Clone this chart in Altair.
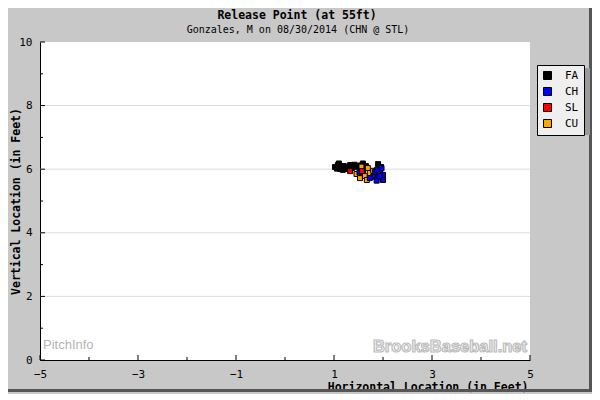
import altair as alt
import pandas as pd

# ---- data ----
TITLE = "Release Point (at 55ft)"
SUBTITLE = "Gonzales, M on 08/30/2014 (CHN @ STL)"
X_TITLE = "Horizontal Location (in Feet)"
Y_TITLE = "Vertical Location (in Feet)"
PITCH_TYPES = ["FA", "CH", "SL", "CU"]
PITCH_COLORS = ["#000000", "#0000ff", "#ff0000", "#ffa500"]

fa_x = [1.02, 1.08, 1.14, 1.20, 1.27, 1.33, 1.39, 1.45, 1.51, 1.12, 1.24, 1.37, 1.59, 1.65, 1.90, 1.96, 1.18, 1.31, 1.06, 1.55, 1.42, 1.10]
fa_y = [6.07, 6.13, 6.07, 6.10, 6.07, 6.13, 6.07, 6.10, 6.07, 6.01, 6.01, 6.04, 6.18, 6.10, 6.16, 6.07, 5.98, 6.00, 6.02, 6.12, 6.14, 6.18]
cu_x = [1.56, 1.59, 1.69, 1.46, 1.53, 1.63, 1.73, 1.80, 1.67]
cu_y = [6.08, 5.92, 6.04, 5.85, 5.72, 5.79, 5.88, 5.95, 5.66]
ch_x = [1.97, 1.84, 1.94, 2.00, 1.80, 1.90, 2.00, 1.73, 1.87, 1.88, 1.93, 1.52]
ch_y = [6.03, 5.92, 5.88, 5.82, 5.76, 5.74, 5.66, 5.72, 5.64, 5.98, 5.79, 5.90]
sl_x = [1.33, 1.57]
sl_y = [5.94, 5.94]

X_MAJOR = [-5, -3, -1, 1, 3, 5]
X_MINOR = [-4, -2, 0, 2, 4]
Y_MAJOR = [0, 2, 4, 6, 8, 10]
Y_MINOR = [1, 3, 5, 7, 9]
Y_GRID = [2, 4, 6, 8]

MONO = "DejaVu Sans Mono"

rows = []
for t, xs_, ys_ in [("FA", fa_x, fa_y), ("CU", cu_x, cu_y), ("CH", ch_x, ch_y), ("SL", sl_x, sl_y)]:
    for a, b in zip(xs_, ys_):
        rows.append({"type": t, "x": a, "y": b})
pts = pd.DataFrame(rows)
pts["order"] = range(len(pts))

W, H = 490, 318
xs = alt.Scale(domain=[-5, 5], nice=False, zero=False)
ys = alt.Scale(domain=[0, 10], nice=False, zero=False)
dummy = pd.DataFrame({"a": [0]})

def box(x, x2, y, y2, color):
    return alt.Chart(dummy).mark_rect(color=color).encode(
        x=alt.value(x), x2=alt.value(x2), y=alt.value(y), y2=alt.value(y2))

# frame border and legend shadow
frame = [
    box(549, 552, -34, 350, "#555555"),
    box(-32, 552, 347, 350, "#555555"),
    box(500, 550, 26, 93, "#9a9a9a"),  # legend shadow
]

grid = alt.Chart(pd.DataFrame({"v": Y_GRID})).mark_rule(color="#dcdcdc").encode(
    y=alt.Y("v:Q", scale=ys), x=alt.value(0), x2=alt.value(W))

def xticks(vals, ln):
    return alt.Chart(pd.DataFrame({"v": vals})).mark_rule(color="black").encode(
        x=alt.X("v:Q", scale=xs), y=alt.value(H), y2=alt.value(H - ln))

def yticks(vals, ln):
    return alt.Chart(pd.DataFrame({"v": vals})).mark_rule(color="black").encode(
        y=alt.Y("v:Q", scale=ys), x=alt.value(0), x2=alt.value(ln))

wm1 = alt.Chart(pd.DataFrame({"t": ["PitchInfo"]})).mark_text(
    align="left", baseline="middle", font="Liberation Sans", fontSize=13, color="#b4b4b4"
).encode(text="t:N", x=alt.value(3), y=alt.value(303))

wm2 = alt.Chart(pd.DataFrame({"t": ["BrooksBaseball.net"]})).mark_text(
    align="right", baseline="middle", font="Liberation Sans", fontSize=16.5, fontWeight="bold",
    fill="#f6f6f6", stroke="#bdbdbd", strokeWidth=1.2
).encode(text="t:N", x=alt.value(487), y=alt.value(305))

title = alt.Chart(pd.DataFrame({"t": [TITLE]})).mark_text(
    align="center", baseline="middle", font=MONO, fontSize=11.5, fontWeight="bold", color="black"
).encode(text="t:N", x=alt.value(257), y=alt.value(-26))

subtitle = alt.Chart(pd.DataFrame({"t": [SUBTITLE]})).mark_text(
    align="center", baseline="middle", font=MONO, fontSize=10, color="black"
).encode(text="t:N", x=alt.value(258), y=alt.value(-12))

points = alt.Chart(pts).mark_square(size=25, opacity=1, stroke="black", strokeWidth=1, filled=True).encode(
    x=alt.X("x:Q", scale=xs, axis=alt.Axis(
        values=X_MAJOR, ticks=False, grid=False, domainColor="black", labelFont=MONO,
        labelFontSize=11, labelColor="black", labelPadding=8, labelFlush=False,
        title=X_TITLE, titleFont=MONO, titleFontSize=11.5, titleFontWeight="bold",
        titleColor="black", titleX=488, titleY=27, titleAlign="right", titleBaseline="middle")),
    y=alt.Y("y:Q", scale=ys, axis=alt.Axis(
        values=Y_MAJOR, ticks=False, grid=False, domainColor="black", labelFont=MONO,
        labelFontSize=11, labelColor="black", labelPadding=8, labelFlush=False,
        title=Y_TITLE, titleFont=MONO, titleFontSize=11.5, titleFontWeight="bold",
        titleColor="black", titleX=-24, titleY=159, titleAngle=270, titleAlign="center",
        titleBaseline="middle")),
    color=alt.Color("type:N", scale=alt.Scale(domain=PITCH_TYPES, range=PITCH_COLORS),
                    legend=alt.Legend(title=None, orient="none", legendX=497, legendY=23,
                                      fillColor="#efefef", strokeColor="black", padding=5,
                                      symbolType="square", symbolSize=64, symbolStrokeColor="black",
                                      symbolStrokeWidth=1, symbolOpacity=1, labelFont=MONO, labelFontSize=11,
                                      labelColor="black", labelOffset=12, rowPadding=3)),
    order=alt.Order("order:Q"),
)

chart = alt.layer(
    *frame, grid, wm1, wm2,
    xticks(X_MAJOR, 5), xticks(X_MINOR, 3), yticks(Y_MAJOR, 5), yticks(Y_MINOR, 3),
    points, title, subtitle,
).properties(
    width=W, height=H,
    autosize=alt.AutoSizeParams(type="none"),
    padding={"left": 32, "top": 34, "right": 62, "bottom": 34},
    background="#c8c8c8",
).configure_view(fill="white", stroke=None)

chart.save("out.html", embed_options={"renderer": "svg", "actions": False})
